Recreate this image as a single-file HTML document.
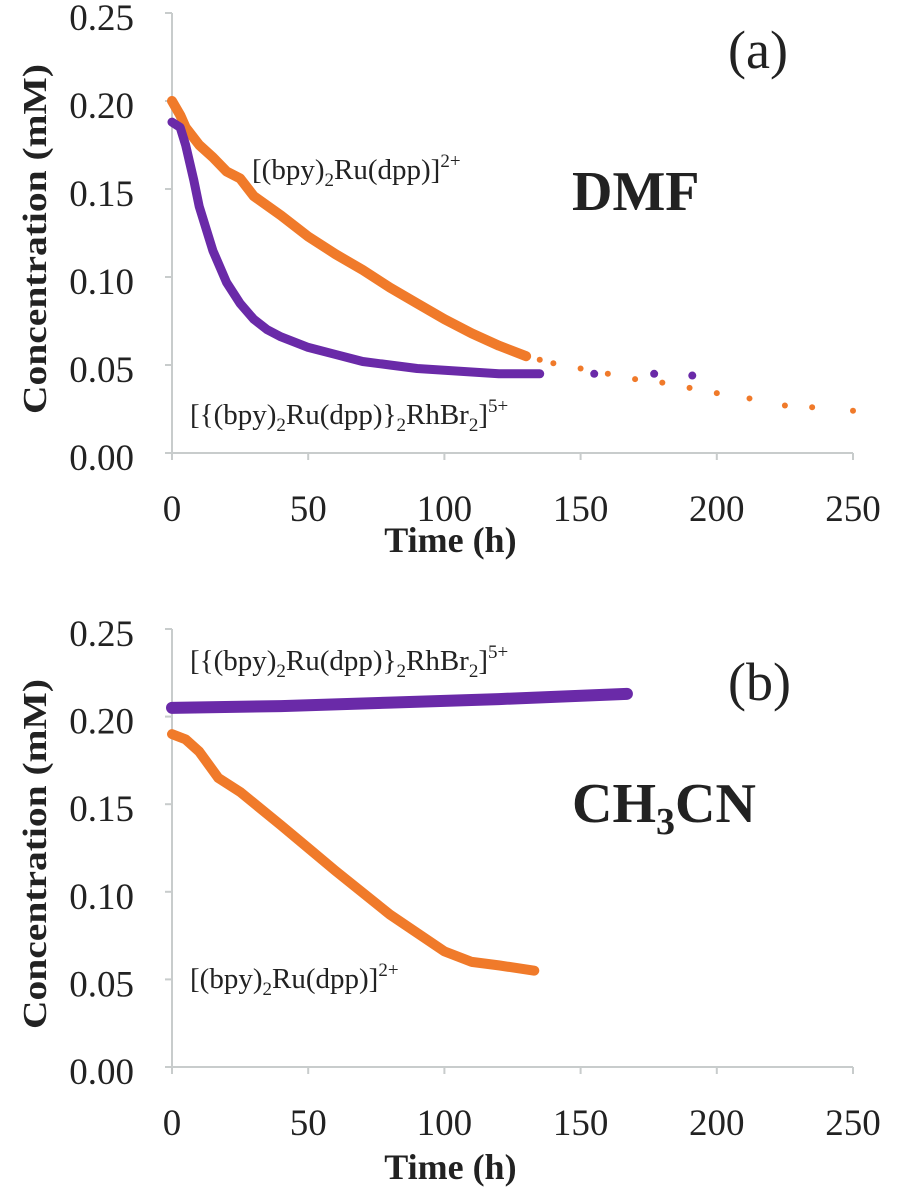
<!DOCTYPE html>
<html><head><meta charset="utf-8"><style>
html,body{margin:0;padding:0;background:#fff}
svg{display:block}
text{font-family:"Liberation Serif",serif;fill:#222}
</style></head><body>
<svg id="chart" width="902" height="1199" viewBox="0 0 902 1199">
<g id="pa"></g>
<g id="pb"></g>
</svg>
<script>
const xTicks=[0,50,100,150,200,250];
const yTicks=[0,0.05,0.10,0.15,0.20,0.25];
const aOrangeT=[0,3,5,10,15,20,25,30,40,50,60,70,80,90,100,110,120,130];
const aOrangeC=[0.200,0.192,0.185,0.175,0.168,0.160,0.156,0.146,0.135,0.123,0.113,0.104,0.094,0.085,0.076,0.068,0.061,0.055];
const aOrangeTailT=[135,140,150,160,170,180,190,200,212,225,235,250];
const aOrangeTailC=[0.053,0.051,0.048,0.045,0.042,0.040,0.037,0.034,0.031,0.027,0.026,0.024];
const aPurpleT=[0,3,5,8,10,15,20,25,30,35,40,50,60,70,80,90,100,110,120,135];
const aPurpleC=[0.188,0.185,0.175,0.155,0.140,0.115,0.097,0.085,0.076,0.070,0.066,0.060,0.056,0.052,0.050,0.048,0.047,0.046,0.045,0.045];
const aPurpleTailT=[155,177,191];
const aPurpleTailC=[0.045,0.045,0.044];
const bPurpleT=[0,40,80,120,167];
const bPurpleC=[0.205,0.206,0.208,0.210,0.213];
const bOrangeT=[0,5,10,17,25,40,50,60,80,100,110,120,133];
const bOrangeC=[0.190,0.187,0.180,0.165,0.157,0.138,0.125,0.112,0.087,0.066,0.060,0.058,0.055];
const NS="http://www.w3.org/2000/svg";
const ORANGE="#f07a2a", PURPLE="#6a2aa8";
function mk(p,tag,at,txt){const e=document.createElementNS(NS,tag);for(const k in at)e.setAttribute(k,at[k]);if(txt!=null)e.textContent=txt;p.appendChild(e);return e;}
function panel(g,y0,y25,timeOff){
  const X=v=>172+v*(853-172)/250;
  const Y=v=>y0+(y25-y0)*v/0.25;
  const ax=mk(g,'path',{d:`M${X(0)},${Y(0.25)}V${Y(0)}M${X(0)-7},${Y(0)}H${X(250)}`,stroke:'#c8cccc','stroke-width':2,fill:'none'});
  
  
  yTicks.forEach(v=>{
    const t=mk(g,'path',{d:`M${X(0)-7},${Y(v)}H${X(0)}`,stroke:'#c8cccc','stroke-width':2});
    
    
    const l=mk(g,'text',{x:134,y:Y(v)+17,'text-anchor':'end','font-size':37},v.toFixed(2));
    
    
  });
  xTicks.forEach(v=>{
    const t=mk(g,'path',{d:`M${X(v)},${Y(0)}V${Y(0)+7}`,stroke:'#c8cccc','stroke-width':2});
    
    
    const l=mk(g,'text',{x:X(v),y:Y(0)+68,'text-anchor':'middle','font-size':37},String(v));
    
    
  });
  const xt=mk(g,'text',{x:X(100)+6,y:Y(0)+timeOff,'text-anchor':'middle','font-size':36,'font-weight':'bold'},'Time (h)');
  
  
  const yt=mk(g,'text',{x:0,y:0,'text-anchor':'middle','font-size':34,'font-weight':'bold',textLength:350,lengthAdjust:'spacingAndGlyphs',transform:`translate(46,${(Y(0)+Y(0.25))/2+6}) rotate(-90)`},'Concentration (mM)');
  
  
  return {X,Y};
}
function series(g,s,T,C,color,w,name){
  const d=T.map((t,i)=>(i?'L':'M')+s.X(t)+','+s.Y(C[i])).join('');
  const p=mk(g,'path',{d,stroke:color,'stroke-width':w,fill:'none','stroke-linejoin':'round','stroke-linecap':'round'});
  
  
}
function dots(g,s,T,C,color,r,name){
  T.forEach((t,i)=>{
    const c=mk(g,'circle',{cx:s.X(t),cy:s.Y(C[i]),r,fill:color});
    
    
  });
}
const ga=document.getElementById('pa'), gb=document.getElementById('pb');
const sa=panel(ga,453,13,99);
series(ga,sa,aOrangeT,aOrangeC,ORANGE,10,'ru-monomer-series');
dots(ga,sa,aOrangeTailT,aOrangeTailC,ORANGE,3,'ru-monomer-point');
series(ga,sa,aPurpleT,aPurpleC,PURPLE,9,'trimetallic-series');
dots(ga,sa,aPurpleTailT,aPurpleTailC,PURPLE,4,'trimetallic-point');
const sb=panel(gb,1067,629,112);
series(gb,sb,bPurpleT,bPurpleC,PURPLE,12,'trimetallic-series');
series(gb,sb,bOrangeT,bOrangeC,ORANGE,10,'ru-monomer-series');
</script>
<svg width="902" height="1199" style="position:absolute;left:0;top:0">
<text x="252" y="179" font-size="29">[(bpy)<tspan font-size="19" dy="7">2</tspan><tspan dy="-7">Ru(dpp)]</tspan><tspan font-size="19" dy="-12">2+</tspan></text>
<text x="572" y="210" font-size="56" font-weight="bold">DMF</text>
<text x="728" y="68" font-size="54">(a)</text>
<text x="190" y="424" font-size="29">[{(bpy)<tspan font-size="19" dy="7">2</tspan><tspan dy="-7">Ru(dpp)}</tspan><tspan font-size="19" dy="7">2</tspan><tspan dy="-7">RhBr</tspan><tspan font-size="19" dy="7">2</tspan><tspan dy="-7">]</tspan><tspan font-size="19" dy="-12">5+</tspan></text>
<text x="190" y="670" font-size="29">[{(bpy)<tspan font-size="19" dy="7">2</tspan><tspan dy="-7">Ru(dpp)}</tspan><tspan font-size="19" dy="7">2</tspan><tspan dy="-7">RhBr</tspan><tspan font-size="19" dy="7">2</tspan><tspan dy="-7">]</tspan><tspan font-size="19" dy="-12">5+</tspan></text>
<text x="728" y="700" font-size="54">(b)</text>
<text x="572" y="822" font-size="56" font-weight="bold">CH<tspan font-size="38" dy="12">3</tspan><tspan dy="-12">CN</tspan></text>
<text x="190" y="988" font-size="29">[(bpy)<tspan font-size="19" dy="7">2</tspan><tspan dy="-7">Ru(dpp)]</tspan><tspan font-size="19" dy="-12">2+</tspan></text>
</svg>
</body></html>
